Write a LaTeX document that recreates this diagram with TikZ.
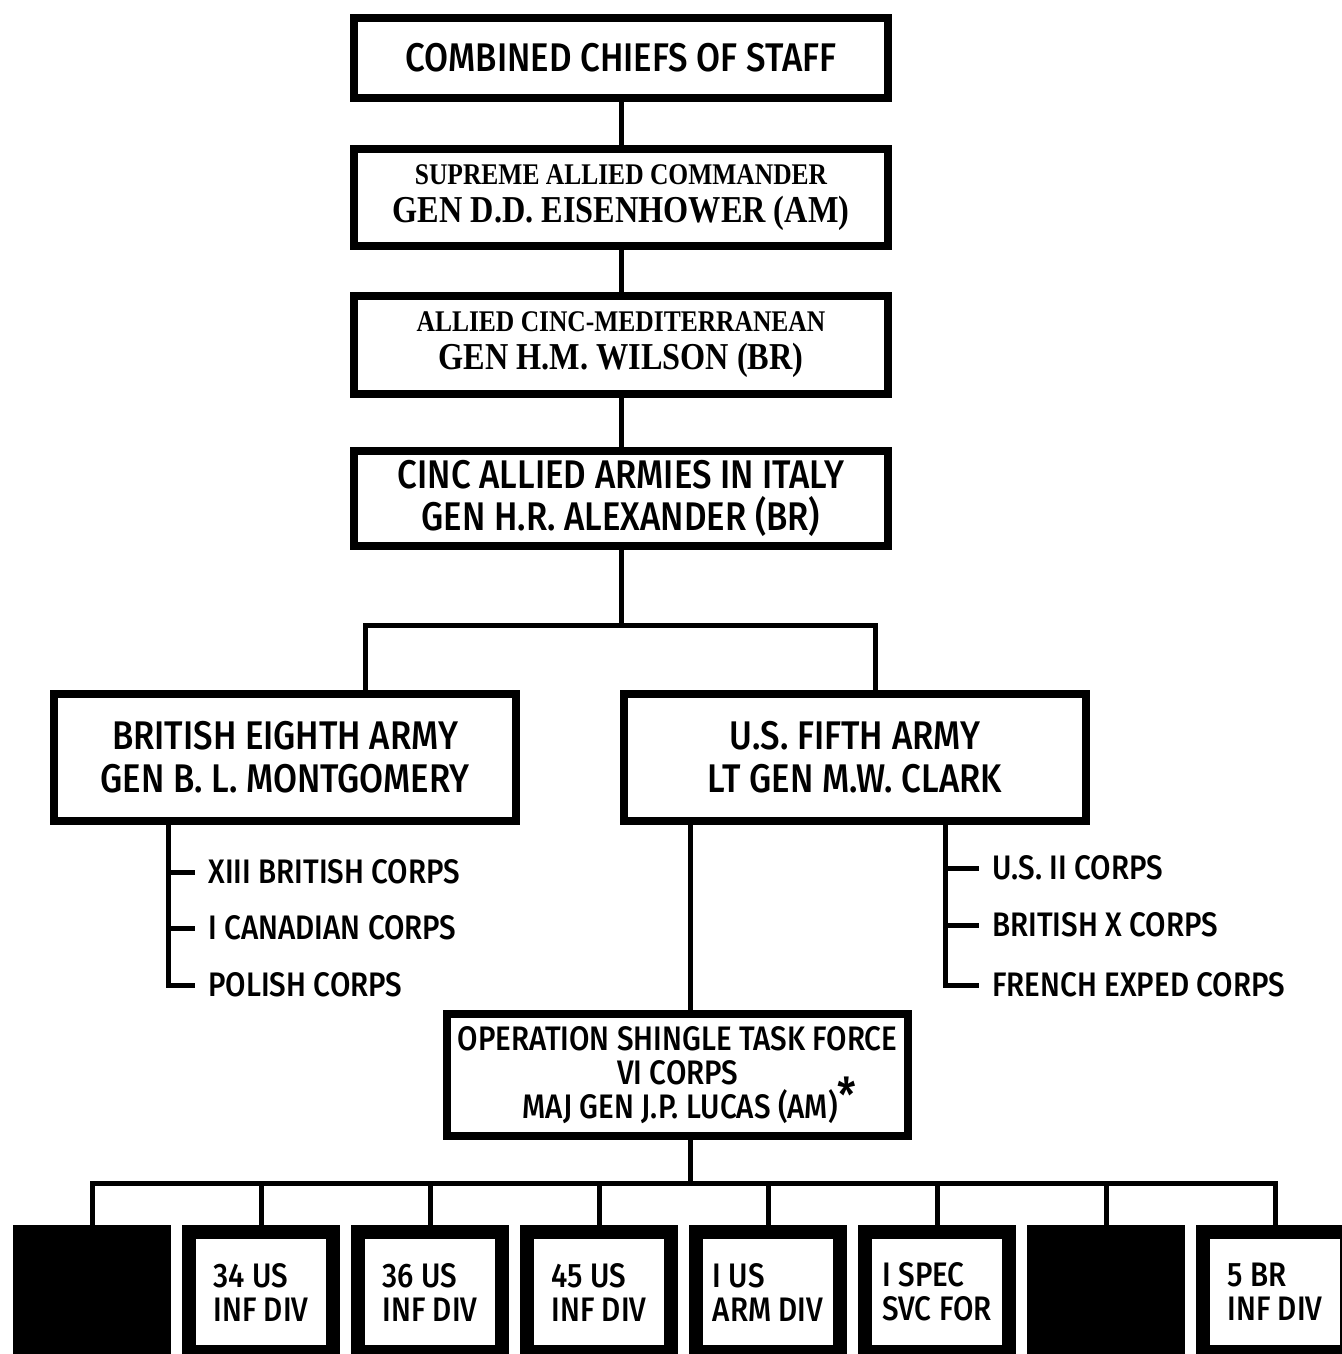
\documentclass[tikz,border=0pt]{standalone}
\usepackage{fontspec}
\setmainfont{Liberation Serif}[FakeStretch=0.85]
\newfontfamily\armyfont{Fira Sans Medium}[FakeStretch=0.87]

\begin{document}
\begin{tikzpicture}[x=0.5pt, y=-0.5pt,
  cmd box/.style={draw, line width=4pt, align=center, inner sep=0pt},
  div box/.style={draw, line width=7pt, minimum width=72pt, minimum height=60pt,
                  inner sep=0pt, align=left, font=\armyfont\fontsize{17}{17}\selectfont},
  corps/.style={anchor=west, inner sep=0pt, font=\armyfont\fontsize{17}{17}\selectfont},
  link/.style={line width=2.5pt}]
\useasboundingbox (0,0) rectangle (1342,1354);

\node[cmd box, minimum width=267pt, minimum height=40pt,
      font=\armyfont\fontsize{20}{24}\selectfont] (ccs) at (621,58) {COMBINED CHIEFS OF STAFF};
\node[cmd box, minimum width=267pt, minimum height=48.5pt,
      font=\bfseries\fontsize{19}{19}\selectfont] (sac) at (621,197.5)
      {{\fontsize{15}{15}\selectfont SUPREME ALLIED COMMANDER}\\GEN D.D. EISENHOWER (AM)};
\node[cmd box, minimum width=267pt, minimum height=49pt,
      font=\bfseries\fontsize{19}{19}\selectfont] (cincmed) at (621,345)
      {{\fontsize{15}{15}\selectfont ALLIED CINC-MEDITERRANEAN}\\GEN H.M. WILSON (BR)};
\node[cmd box, minimum width=267pt, minimum height=47.5pt,
      font=\armyfont\fontsize{20}{21}\selectfont] (cincit) at (621,498.5)
      {CINC ALLIED ARMIES IN ITALY\\GEN H.R. ALEXANDER (BR)};

\node[cmd box, minimum width=231pt, minimum height=63.5pt,
      font=\armyfont\fontsize{20}{21.5}\selectfont] (eighth) at (285,757.5)
      {BRITISH EIGHTH ARMY\\GEN B. L. MONTGOMERY};
\node[cmd box, minimum width=231pt, minimum height=63.5pt,
      font=\armyfont\fontsize{20}{21.5}\selectfont] (fifth) at (855,757.5)
      {U.S. FIFTH ARMY\\LT GEN M.W. CLARK};

\node[corps] (xiii) at (208,872) {XIII BRITISH CORPS};
\node[corps] (canadian) at (208,928) {I CANADIAN CORPS};
\node[corps] (polish) at (208,985) {POLISH CORPS};
\node[corps] (usii) at (992,868) {U.S. II CORPS};
\node[corps] (britx) at (992,925) {BRITISH X CORPS};
\node[corps] (french) at (992,985) {FRENCH EXPED CORPS};

\node[cmd box, minimum width=230.5pt, minimum height=61pt,
      font=\armyfont\fontsize{17}{17}\selectfont] (shingle) at (677.5,1075)
      {OPERATION SHINGLE TASK FORCE\\VI CORPS\\
       \hspace*{12pt}MAJ GEN J.P. LUCAS (AM)\smash{\raisebox{3pt}{\fontsize{24}{24}\selectfont *}}};

\node[div box, fill=black] (d1) at (92,1292) {};
\node[div box] (d2) at (261,1292) {34 US\\INF DIV};
\node[div box] (d3) at (430,1292) {36 US\\INF DIV};
\node[div box] (d4) at (599,1292) {45 US\\INF DIV};
\node[div box] (d5) at (768,1292) {I US\\ARM DIV};
\node[div box] (d6) at (937,1292) {I SPEC\\SVC FOR};
\node[div box, fill=black] (d7) at (1106,1292) {};
\node[div box] (d8) at (1275,1292) {5 BR\\INF DIV};

\draw[link] (ccs) -- (sac);
\draw[link] (sac) -- (cincmed);
\draw[link] (cincmed) -- (cincit);

\coordinate (armies) at (621,625);
\draw[link] (cincit) -- (armies);
\draw[link] ([xshift=40pt]eighth.north) |- (armies) -| ([xshift=10pt]fifth.north);

\coordinate (lbr) at (168,0);
\coordinate (rbr) at (945,0);
\draw[link] (eighth.south -| lbr) |- ([xshift=-6.5pt]polish.west);
\draw[link] (xiii.west -| lbr) -- ([xshift=-6.5pt]xiii.west);
\draw[link] (canadian.west -| lbr) -- ([xshift=-6.5pt]canadian.west);
\draw[link] (fifth.south -| rbr) |- ([xshift=-6.5pt]french.west);
\draw[link] (usii.west -| rbr) -- ([xshift=-6.5pt]usii.west);
\draw[link] (britx.west -| rbr) -- ([xshift=-6.5pt]britx.west);

\coordinate (vi) at (690,0);
\draw[link] (fifth.south -| vi) -- (shingle.north -| vi);

\coordinate (divs) at (690,1183);
\draw[link] (shingle.south -| vi) -- (divs);
\draw[link] (d1.north) |- (divs) -| (d8.north);
\foreach \i in {2,...,7}
  \draw[link] (d\i.north |- divs) -- (d\i.north);
\end{tikzpicture}
\end{document}
